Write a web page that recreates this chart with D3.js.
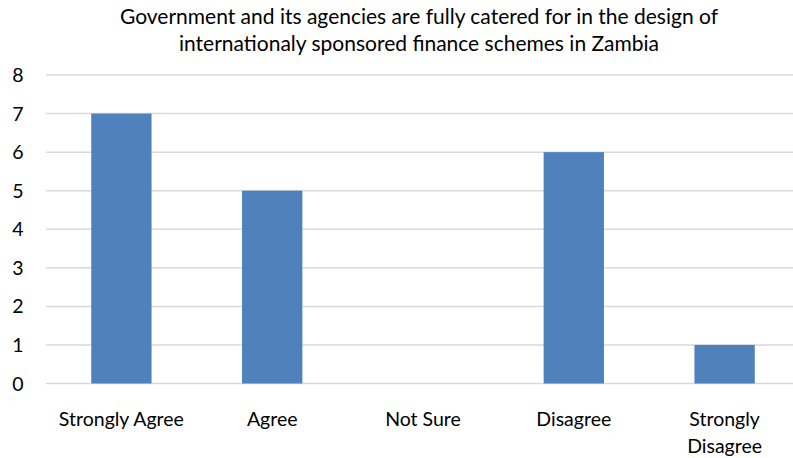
<!DOCTYPE html>
<html>
<head>
<meta charset="utf-8">
<script src="https://d3js.org/d3.v7.min.js"></script>
<style>
  body { margin: 0; background: #fff; }
  svg { display: block; font-family: Lato, "Open Sans", sans-serif; }
</style>
</head>
<body>
<div id="chart"></div>
<script>
const categories = ["Strongly Agree", "Agree", "Not Sure", "Disagree", "Strongly Disagree"];
const values = [7, 5, 0, 6, 1];
const yTicks = [0, 1, 2, 3, 4, 5, 6, 7, 8];
const titleLines = [
    "Government and its agencies are fully catered for in the design of",
    "internationaly sponsored finance schemes in Zambia"
];

function init() {
    const w = 793;
    const h = 458;

    const svg = d3.select("#chart")
        .append("svg")
        .attr("width", w)
        .attr("height", h);

    const x = d3.scaleBand()
        .domain(categories)
        .range([46, 800])
        .paddingInner(0.6)
        .paddingOuter(0.3);

    const y = d3.scaleLinear()
        .domain([0, 8])
        .range([383.5, 75]);

    // gridlines
    svg.append("g")
        .selectAll("line")
        .data(yTicks)
        .enter()
        .append("line")
        .attr("x1", 46)
        .attr("x2", w)
        .attr("y1", d => y(d))
        .attr("y2", d => y(d))
        .attr("stroke", "#d9d9d9")
        .attr("stroke-width", 1.5);

    // y labels
    svg.append("g")
        .selectAll("text")
        .data(yTicks)
        .enter()
        .append("text")
        .attr("x", 18)
        .attr("y", d => y(d))
        .attr("dy", "0.36em")
        .attr("text-anchor", "middle")
        .attr("font-size", 19.5)
        .attr("fill", "#000")
        .text(d => d);

    // bars
    svg.append("g")
        .selectAll("rect")
        .data(values)
        .enter()
        .append("rect")
        .attr("x", (d, i) => x(categories[i]))
        .attr("width", x.bandwidth())
        .attr("y", d => y(d))
        .attr("height", d => y(0) - y(d))
        .attr("fill", "#4f81bd");

    // x labels, wrapped like the original
    const labelLines = {
        "Strongly Agree": ["Strongly Agree"],
        "Agree": ["Agree"],
        "Not Sure": ["Not Sure"],
        "Disagree": ["Disagree"],
        "Strongly Disagree": ["Strongly", "Disagree"]
    };
    const xl = svg.append("g")
        .selectAll("text")
        .data(categories)
        .enter()
        .append("text")
        .attr("text-anchor", "middle")
        .attr("font-size", 19.5)
        .attr("fill", "#000");
    xl.each(function (c) {
        const t = d3.select(this);
        labelLines[c].forEach((line, k) => {
            t.append("tspan")
                .attr("x", x(c) + x.bandwidth() / 2)
                .attr("y", 426 + k * 27)
                .text(line);
        });
    });

    // title
    svg.append("g")
        .selectAll("text")
        .data(titleLines)
        .enter()
        .append("text")
        .attr("x", 419)
        .attr("y", (d, i) => 24 + i * 27)
        .attr("text-anchor", "middle")
        .attr("font-size", 21)
        .attr("fill", "#000")
        .text(d => d);
}

window.onload = init;
</script>
</body>
</html>
